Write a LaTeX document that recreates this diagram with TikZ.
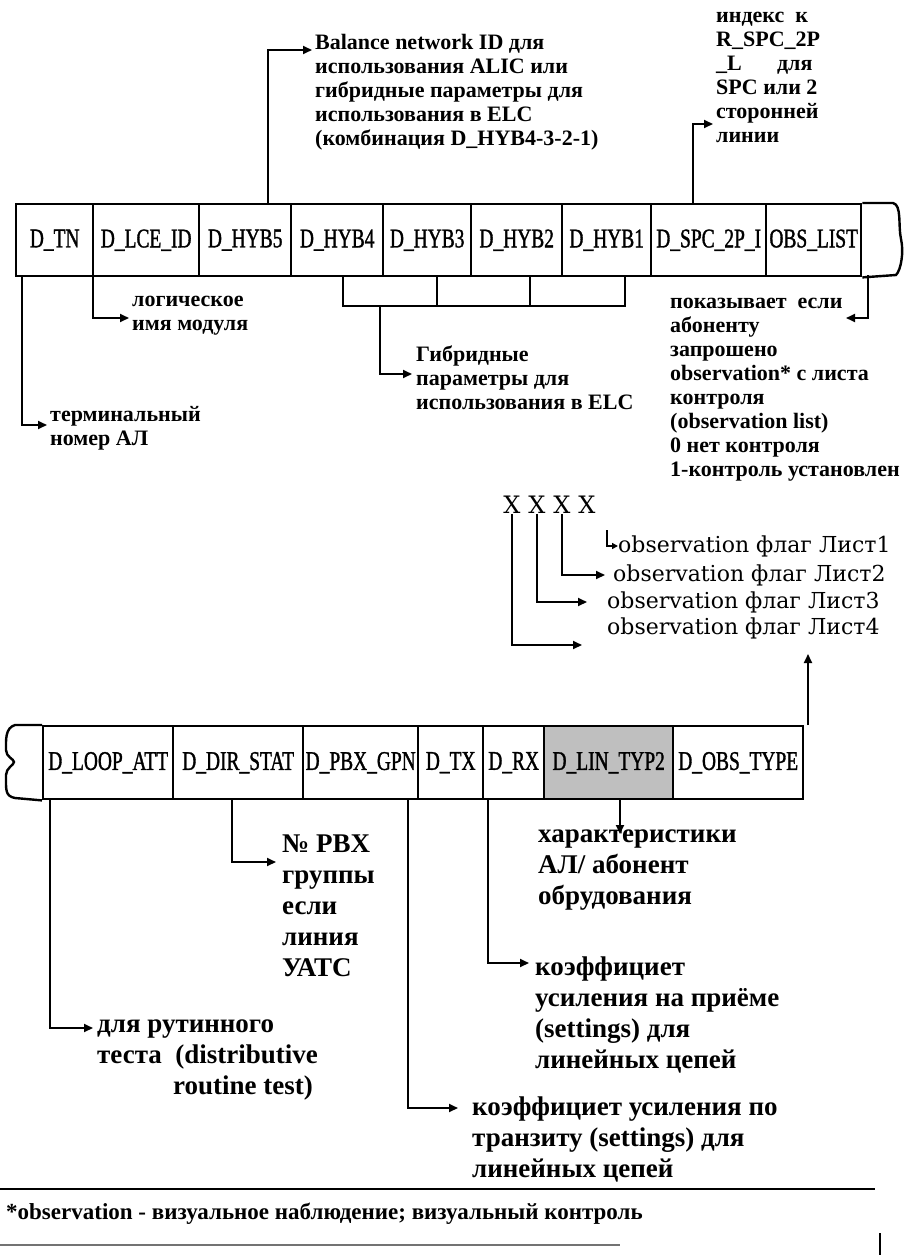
\documentclass[tikz,border=0pt]{standalone}
\usepackage{fontspec}
\setmainfont{Liberation Serif}
\newfontfamily\lf{DejaVu Serif}
\newfontfamily\cellfont[FakeStretch=0.72,FakeBold=1.2]{Liberation Serif}
\usetikzlibrary{arrows.meta}
\tikzset{
  cell/.style={draw, line width=2.4pt, minimum height=72pt, inner sep=0pt, anchor=north west,
    font=\cellfont\fontsize{27}{30}\selectfont},
  lblT/.style={anchor=north west, inner sep=0pt, align=left,
    font=\bfseries\fontsize{22}{24}\selectfont, execute at begin node=\strut},
  lblM/.style={anchor=north west, inner sep=0pt, align=left,
    font=\bfseries\fontsize{22}{24}\selectfont, execute at begin node=\strut},
  lblB/.style={anchor=north west, inner sep=0pt, align=left,
    font=\bfseries\fontsize{27}{31}\selectfont, execute at begin node=\strut},
  lst/.style={anchor=west, inner sep=0pt, font=\lf\fontsize{22}{24}\selectfont},
  xx/.style={inner sep=0pt, font=\lf\fontsize{24}{24}\selectfont},
  arr/.style={line width=1.8pt, -{Triangle[length=9pt,width=8pt]}},
  sarr/.style={line width=1.6pt, -{Triangle[length=6pt,width=6pt]}},
  ln/.style={line width=1.8pt},
  edge/.style={line width=2.4pt},
}
\begin{document}
\begin{tikzpicture}[x=1pt,y=-1pt]
\useasboundingbox (0,0) rectangle (905,1255);

% ---------- top row ----------
\node[cell, minimum width=77pt]  (tn)   at (15,203)  {D\_TN};
\node[cell, minimum width=106pt] (lce)  at (92,203)  {D\_LCE\_ID};
\node[cell, minimum width=92pt]  (h5)   at (198,203) {D\_HYB5};
\node[cell, minimum width=92pt]  (h4)   at (290,203) {D\_HYB4};
\node[cell, minimum width=88pt]  (h3)   at (382,203) {D\_HYB3};
\node[cell, minimum width=91pt]  (h2)   at (470,203) {D\_HYB2};
\node[cell, minimum width=89pt]  (h1)   at (561,203) {D\_HYB1};
\node[cell, minimum width=115pt] (spc)  at (650,203) {D\_SPC\_2P\_I};
\node[cell, minimum width=95pt]  (obs)  at (765,203) {OBS\_LIST};
\draw[edge] (obs.north east) -- (893,203) .. controls (902,205) and (898,226) .. (901,239)
  .. controls (904,252) and (901,270) .. (896,275) -- (obs.south east);

% ---------- top labels ----------
\node[lblT] (idx) at (716,12) {индекс\ \ к\\R\_SPC\_2P\\\_L\hspace{1.6em}для\\SPC или 2\\сторонней\\линии};
\node[lblT] (bal) at (315,34) {Balance network ID для\\использования ALIC или\\гибридные параметры для\\использования в ELC\\(комбинация D\_HYB4-3-2-1)};
\coordinate (balS) at (268,203); \coordinate (balE) at (312,50);
\draw[arr] (balS) |- (balE);
\coordinate (idxS) at (693,203); \coordinate (idxE) at (713,124);
\draw[arr] (idxS) |- (idxE);

% ---------- bracket under HYB4..HYB1 ----------
\coordinate (b4) at (343,306); \coordinate (b3) at (437,306);
\coordinate (b2) at (530,306); \coordinate (b1) at (625,306);
\draw[ln] (b4 |- h4.south) -- (b4) -- (b1) -- (b1 |- h1.south);
\draw[ln] (b3 |- h3.south) -- (b3);
\draw[ln] (b2 |- h2.south) -- (b2);

\node[lblM] (log) at (132,296) {логическое\\имя модуля};
\coordinate (logS) at (93,275); \coordinate (logE) at (129,318);
\draw[arr] (logS) |- (logE);

\node[lblM] (gib) at (416,346) {Гибридные\\параметры для\\использования в ELC};
\coordinate (gibS) at (380,306); \coordinate (gibE) at (412,374);
\draw[arr] (gibS) |- (gibE);

\node[lblM] (pok) at (670,298) {показывает\ \ если\\абоненту\\запрошено\\observation* с листа\\контроля\\(observation list)\\0 нет контроля\\1-контроль установлен};
\coordinate (pokS) at (868,275); \coordinate (pokE) at (846,318);
\draw[arr] (pokS) |- (pokE);

\node[lblM] (term) at (50,406) {терминальный\\номер АЛ};
\coordinate (termS) at (22,275); \coordinate (termE) at (47,425);
\draw[arr] (termS) |- (termE);

% ---------- X X X X ----------
\node[xx] (x1) at (512,505) {X};
\node[xx] (x2) at (537,505) {X};
\node[xx] (x3) at (562,505) {X};
\node[xx] (x4) at (587,505) {X};
\node[lst] (l1) at (618,546) {observation флаг Лист1};
\node[lst] (l2) at (613,575) {observation флаг Лист2};
\node[lst] (l3) at (607,602) {observation флаг Лист3};
\node[lst] (l4) at (607,628) {observation флаг Лист4};
\coordinate (a4) at (582,645); \draw[arr] (x1.south) |- (a4);
\coordinate (a3) at (587,602); \draw[arr] (x2.south) |- (a3);
\coordinate (a2) at (605,575); \draw[arr] (x3.south) |- (a2);
\coordinate (a1s) at (607,530); \coordinate (a1) at (618,546);
\draw[sarr] (a1s) |- (a1);

% ---------- bottom row ----------
\node[cell, minimum width=130pt, minimum height=73pt] (loop) at (42,725)  {D\_LOOP\_ATT};
\node[cell, minimum width=130pt, minimum height=73pt] (dir)  at (172,725) {D\_DIR\_STAT};
\node[cell, minimum width=115pt, minimum height=73pt] (pbx)  at (302,725) {D\_PBX\_GPN};
\node[cell, minimum width=65pt,  minimum height=73pt] (tx)   at (417,725) {D\_TX};
\node[cell, minimum width=61pt,  minimum height=73pt] (rx)   at (482,725) {D\_RX};
\node[cell, minimum width=129pt, minimum height=73pt, fill=black!25] (lin) at (543,725) {D\_LIN\_TYP2};
\node[cell, minimum width=130pt, minimum height=73pt] (otype) at (672,725) {D\_OBS\_TYPE};
\draw[edge] (loop.north west) -- (15,725) .. controls (5,728) and (6,740) .. (6,750)
  .. controls (6,757) and (14,759) .. (14,762) .. controls (14,765) and (6,768) .. (6,775)
  .. controls (6,790) and (5,796) .. (15,798) -- (loop.south west);

% up arrow from D_OBS_TYPE
\coordinate (upS) at (808,725); \coordinate (upE) at (808,654);
\draw[arr] (upS) -- (upE);

% ---------- bottom labels ----------
\node[lblB] (har) at (538,830) {характеристики\\АЛ/ абонент\\обрудования};
\coordinate (linS) at (620,798); \coordinate (linE) at (620,834);
\draw[arr] (linS) -- (linE);

\node[lblB] (pbxl) at (282,835) {№ PBX\\группы\\если\\линия\\УАТС};
\coordinate (pbxS) at (232,798); \coordinate (pbxE) at (276,862);
\draw[arr] (pbxS) |- (pbxE);

\node[lblB] (rxl) at (535,957) {коэффициет\\усиления на приёме\\(settings) для\\линейных цепей};
\coordinate (rxS) at (488,798); \coordinate (rxE) at (529,963);
\draw[arr] (rxS) |- (rxE);

\node[lblB] (rut) at (97,1020) {для рутинного\\теста\ \ (distributive\\\hspace*{76pt}routine test)};
\coordinate (rutS) at (50,798); \coordinate (rutE) at (93,1028);
\draw[arr] (rutS) |- (rutE);

\node[lblB] (trl) at (472,1097) {коэффициет усиления по\\транзиту (settings) для\\линейных цепей};
\coordinate (trS) at (408,798); \coordinate (trE) at (458,1108);
\draw[arr] (trS) |- (trE);

% ---------- footnote ----------
\draw[line width=2.8pt] (0,1189) -- (875,1189);
\node[anchor=west, inner sep=0pt, font=\bfseries\fontsize{23}{26}\selectfont] (fn) at (6,1214)
  {*observation - визуальное наблюдение; визуальный контроль};
\draw[line width=1.4pt, black!55] (0,1245) -- (620,1245);
\draw[line width=2pt] (880,1233) -- (880,1255);
\end{tikzpicture}
\end{document}
